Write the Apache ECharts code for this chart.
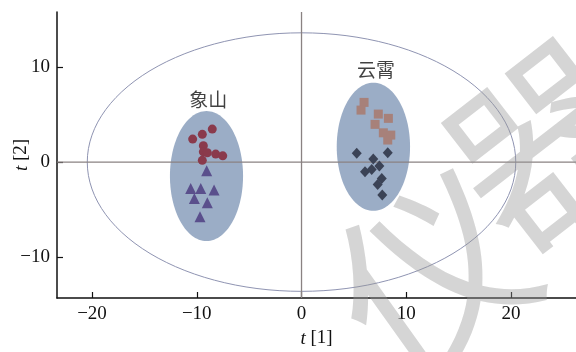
<!DOCTYPE html>
<html>
<head>
<meta charset="utf-8">
<script src="https://cdn.jsdelivr.net/npm/echarts@6/dist/echarts.min.js"></script>
<style>
  html, body { margin: 0; padding: 0; background: #ffffff; }
  #chart { width: 576px; height: 352px; }
</style>
</head>
<body>
<div id="chart"></div>
<script>
// PCA score plot: t[1] vs t[2]
const xTicks = [-20, -10, 0, 10, 20];
const yTicks = [-10, 0, 10];

// 象山 samples
const xiangshanCircles = [
  [-10.39, 2.42], [-9.47, 2.92], [-8.52, 3.47], [-9.37, 1.72], [-9.37, 1.08],
  [-8.99, 0.98], [-8.19, 0.84], [-7.52, 0.66], [-9.47, 0.18]
];
const xiangshanTriangles = [
  [-9.05, -0.92], [-10.58, -2.77], [-9.62, -2.77], [-8.35, -2.95],
  [-10.23, -3.82], [-8.99, -4.28], [-9.69, -5.76]
];

// 云霄 samples
const yunxiaoSquares = [
  [5.97, 6.28], [5.68, 5.47], [7.33, 5.05], [8.29, 4.60],
  [7.02, 3.97], [7.81, 3.08], [8.52, 2.84], [8.23, 2.32]
];
const yunxiaoDiamonds = [
  [5.27, 0.92], [8.23, 0.98], [6.85, 0.32], [7.43, -0.42], [6.06, -1.02],
  [6.70, -0.77], [7.66, -1.72], [7.27, -2.35], [7.71, -3.47]
];

// Group ellipses: [centerX, centerY, radiusX, radiusY]
const groupEllipses = [
  [-9.07, -1.47, 3.49, 6.84],
  [6.86, 1.61, 3.50, 6.74]
];
// Hotelling T2 ellipse
const confidenceEllipse = [[0, 0, 20.45, 13.6]];

// Group names placed above each cluster
const groupNames = [
  { name: '象山', value: [-8.9, 6.6] },
  { name: '云霄', value: [7.1, 9.7] }
];

const X_MIN = -23.34, X_MAX = 26.2;
const Y_MIN = -14.3, Y_MAX = 15.79;

const chart = echarts.init(document.getElementById('chart'), null, { renderer: 'canvas' });

function ellipseRenderer(style) {
  return function (params, api) {
    const cx = api.value(0), cy = api.value(1), rx = api.value(2), ry = api.value(3);
    const pts = [];
    const n = 120;
    for (let i = 0; i < n; i++) {
      const a = (i / n) * Math.PI * 2;
      pts.push(api.coord([cx + rx * Math.cos(a), cy + ry * Math.sin(a)]));
    }
    return { type: 'polygon', shape: { points: pts }, style: style };
  };
}

const minus = v => String(v).replace('-', '\u2212');
const serif = '"Liberation Serif", "DejaVu Serif", serif';
const cjk = '"Noto Sans CJK SC", sans-serif';

const option = {
  backgroundColor: '#ffffff',
  animation: false,
  grid: { left: 57, right: 0, top: 12, bottom: 54, containLabel: false, outerBoundsMode: 'none' },
  xAxis: {
    type: 'value', min: X_MIN, max: X_MAX,
    name: '{i|t} [1]', nameLocation: 'middle', nameGap: 31, nameMoveOverlap: false,
    nameTextStyle: {
      fontFamily: serif, fontSize: 19, color: '#111',
      rich: { i: { fontFamily: serif, fontStyle: 'italic', fontSize: 19, color: '#111' } }
    },
    axisLine: { onZero: false, lineStyle: { color: '#111', width: 1.5 } },
    axisTick: { inside: true, length: 6, customValues: xTicks, lineStyle: { color: '#111', width: 1.2 } },
    axisLabel: { customValues: xTicks, formatter: minus, margin: 7, fontFamily: serif, fontSize: 19, color: '#111' },
    splitLine: { show: false }
  },
  yAxis: {
    type: 'value', min: Y_MIN, max: Y_MAX,
    name: '{i|t} [2]', nameLocation: 'middle', nameGap: 26, nameRotate: 90, nameMoveOverlap: false,
    nameTextStyle: {
      fontFamily: serif, fontSize: 19, color: '#111',
      rich: { i: { fontFamily: serif, fontStyle: 'italic', fontSize: 19, color: '#111' } }
    },
    axisLine: { onZero: false, lineStyle: { color: '#111', width: 1.5 } },
    axisTick: { inside: true, length: 6, customValues: yTicks, lineStyle: { color: '#111', width: 1.2 } },
    axisLabel: { customValues: yTicks, formatter: minus, margin: 7, fontFamily: serif, fontSize: 19, color: '#111' },
    splitLine: { show: false }
  },
  series: [
    {
      type: 'custom', name: 'T2', z: 1, silent: true,
      data: confidenceEllipse,
      renderItem: ellipseRenderer({ fill: 'none', stroke: '#8f94b2', lineWidth: 1 })
    },
    {
      type: 'custom', name: 'groups', z: 1, silent: true,
      data: groupEllipses,
      renderItem: ellipseRenderer({ fill: '#9badc6', stroke: 'none' })
    },
    {
      type: 'custom', name: 'zero', z: 2, silent: true,
      data: [[0, 0]],
      renderItem: function (params, api) {
        const l = api.coord([X_MIN, 0]), r = api.coord([X_MAX, 0]);
        const t = api.coord([0, Y_MAX]), b = api.coord([0, Y_MIN]);
        const st = { stroke: '#8a8282', lineWidth: 1.3 };
        return {
          type: 'group', children: [
            { type: 'line', shape: { x1: l[0], y1: l[1], x2: r[0], y2: r[1] }, style: st },
            { type: 'line', shape: { x1: t[0], y1: t[1], x2: b[0], y2: b[1] }, style: st }
          ]
        };
      }
    },
    {
      type: 'scatter', name: '象山-1', z: 3, symbol: 'circle', symbolSize: 9,
      itemStyle: { color: '#8a3a4c', opacity: 1 }, data: xiangshanCircles
    },
    {
      type: 'scatter', name: '象山-2', z: 3, symbol: 'triangle', symbolSize: 11,
      itemStyle: { color: '#5a4f8c', opacity: 1 }, data: xiangshanTriangles
    },
    {
      type: 'scatter', name: '云霄-1', z: 3, symbol: 'rect', symbolSize: 9,
      itemStyle: { color: '#a7817a', opacity: 1 }, data: yunxiaoSquares
    },
    {
      type: 'scatter', name: '云霄-2', z: 3, symbol: 'diamond', symbolSize: [10, 11],
      itemStyle: { color: '#3b4356', opacity: 1 }, data: yunxiaoDiamonds
    },
    {
      type: 'scatter', name: 'names', z: 4, symbolSize: 0, silent: true,
      data: groupNames,
      label: {
        show: true, position: 'inside', formatter: '{b}',
        fontFamily: cjk, fontSize: 19, color: '#111'
      }
    }
  ],
  // Site watermark over the plot
  graphic: [
    {
      type: 'text', z: 100, silent: true,
      x: 432, y: 274, rotation: 0.62,
      style: {
        text: '仪', fontFamily: cjk, fontWeight: 'normal', fontSize: 190,
        fill: 'rgba(150,150,150,0.4)', align: 'center', verticalAlign: 'middle'
      }
    },
    {
      type: 'text', z: 100, silent: true,
      x: 545, y: 142, rotation: 0.66,
      style: {
        text: '器', fontFamily: cjk, fontWeight: 'normal', fontSize: 190,
        fill: 'rgba(150,150,150,0.4)', align: 'center', verticalAlign: 'middle'
      }
    }
  ]
};

chart.setOption(option);
</script>
</body>
</html>
